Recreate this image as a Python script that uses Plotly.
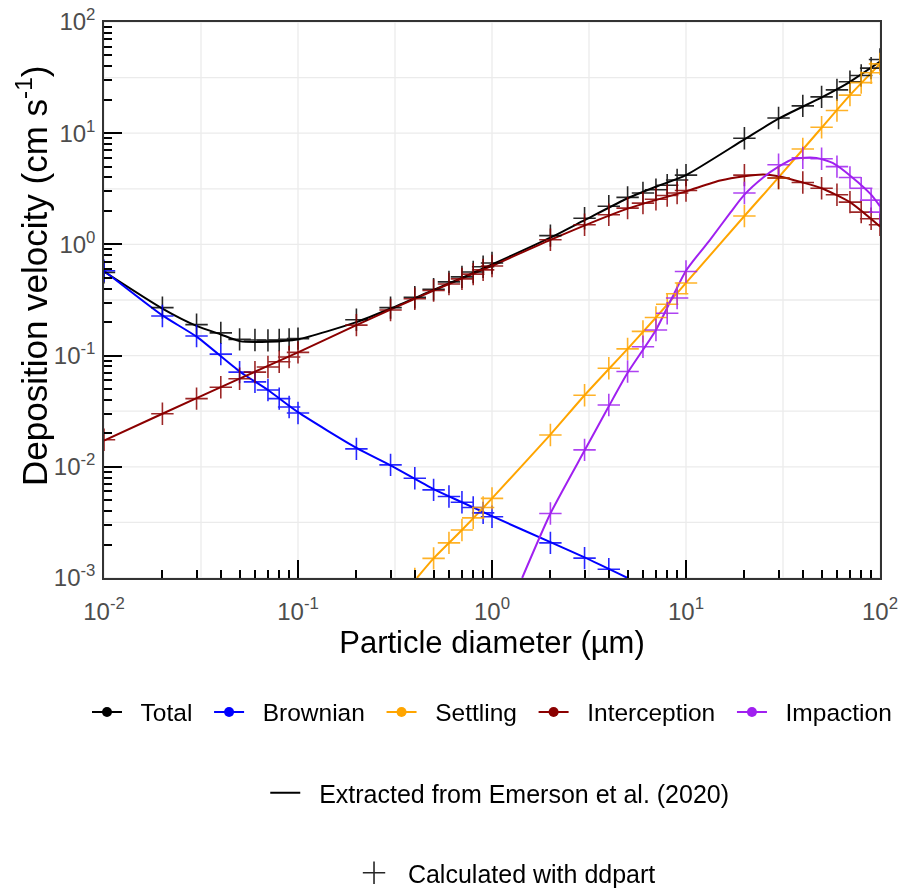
import plotly.graph_objects as go

# ---------------- data ----------------
# ddpart calculation grid (particle diameter, µm)
calc_d = [0.01, 0.02, 0.03, 0.04, 0.05, 0.06, 0.07, 0.08, 0.09,
          0.1, 0.2, 0.3, 0.4, 0.5, 0.6, 0.7, 0.8, 0.9,
          1, 2, 3, 4, 5, 6, 7, 8, 9,
          10, 20, 30, 40, 50, 60, 70, 80, 90, 100]

calc_total = [0.56, 0.27, 0.19, 0.16, 0.14, 0.138, 0.137, 0.138, 0.14,
              0.142, 0.21, 0.27, 0.335, 0.395, 0.46, 0.51, 0.565, 0.63,
              0.68, 1.2, 1.72, 2.2, 2.65, 2.9, 3.1, 3.4, 3.8,
              4.2, 9.0, 13.7, 17.6, 21.2, 24.5, 29.0, 33.0, 38.5, 46.0]
calc_brownian = [0.58, 0.227, 0.15, 0.103, 0.071, 0.058, 0.049, 0.041, 0.0345,
                 0.0305, 0.0145, 0.0104, 0.0079, 0.0062, 0.0054, 0.0048, 0.0043, 0.00385,
                 0.00355, 0.00207, 0.00151, 0.0012, None, None, None, None, None,
                 None, None, None, None, None, None, None, None, None, None]
calc_settling = [None, None, None, None, None, None, None, None, None,
                 None, None, None, 0.00098, 0.0015, 0.00207, 0.0027, 0.00347, 0.0043,
                 0.0052, 0.0193, 0.044, 0.077, 0.115, 0.165, 0.22, 0.29, 0.36,
                 0.45, 1.8, 3.95, 7.2, 11.3, 16.0, 22.0, 28.5, 35.0, 42.0]
calc_interception = [0.0175, 0.03, 0.041, 0.052, 0.062, 0.071, 0.079, 0.088, 0.097,
                     0.107, 0.188, 0.257, 0.325, 0.385, 0.44, 0.49, 0.54, 0.59,
                     0.64, 1.1, 1.5, 1.85, 2.12, 2.35, 2.55, 2.75, 2.9,
                     3.05, 4.2, 3.95, 3.6, 3.2, 2.8, 2.4, 1.95, 1.7, 1.5]
calc_impaction = [None, None, None, None, None, None, None, None, None,
                  None, None, None, None, None, None, None, None, None,
                  None, 0.0038, 0.0142, 0.036, 0.072, 0.12, 0.17, 0.24, 0.33,
                  0.57, 2.9, 5.2, 6.0, 5.9, 5.0, 4.0, 3.2, 2.5, 1.95]

# curves extracted from Emerson et al. (2020)
ext_total_d = [0.01, 0.02, 0.03, 0.04, 0.05, 0.07, 0.1, 0.2, 0.3, 0.5, 0.7, 1,
               2, 3, 5, 7, 10, 20, 30, 50, 70, 100]
ext_total_v = [0.57, 0.265, 0.185, 0.155, 0.135, 0.133, 0.14, 0.2, 0.265, 0.39, 0.5, 0.66,
               1.15, 1.65, 2.6, 3.3, 4.2, 8.8, 13.5, 21.0, 29.0, 44.0]
ext_brownian_d = [0.01, 0.02, 0.03, 0.05, 0.07, 0.1, 0.2, 0.3, 0.5, 0.7, 1, 2, 3, 5]
ext_brownian_v = [0.58, 0.23, 0.148, 0.072, 0.049, 0.031, 0.0148, 0.0103, 0.0063, 0.0048,
                  0.0036, 0.0021, 0.00153, 0.001]
ext_settling_d = [0.41, 0.5, 0.7, 1, 2, 3, 5, 7, 10, 20, 30, 50, 70, 100]
ext_settling_v = [0.001, 0.0015, 0.0027, 0.0052, 0.0195, 0.044, 0.115, 0.22, 0.45,
                  1.8, 4.0, 11.2, 22.0, 42.0]
ext_interception_d = [0.01, 0.02, 0.05, 0.1, 0.2, 0.5, 1, 2, 5, 10, 15, 20, 25, 30,
                      40, 50, 70, 100]
ext_interception_v = [0.0172, 0.03, 0.062, 0.107, 0.188, 0.385, 0.64, 1.1, 2.1, 3.0,
                      3.75, 4.1, 4.25, 4.1, 3.6, 3.2, 2.4, 1.45]
ext_impaction_d = [1.43, 2, 3, 4, 5, 7, 10, 13.3, 17, 20, 25, 30, 36, 47, 57, 72, 90, 100]
ext_impaction_v = [0.001, 0.0038, 0.014, 0.035, 0.07, 0.17, 0.58, 1.1, 1.95, 2.8,
                   4.0, 5.0, 5.9, 6.0, 5.4, 4.0, 2.8, 2.2]

series_names = ["Total", "Brownian", "Settling", "Interception", "Impaction"]
series_colors = ["#000000", "#0000FF", "#FFA500", "#8B0000", "#A020F0"]

x_tick_vals = [0.01, 0.1, 1, 10, 100]
x_tick_text = ["10<sup>-2</sup>", "10<sup>-1</sup>", "10<sup>0</sup>", "10<sup>1</sup>", "10<sup>2</sup>"]
y_tick_vals = [0.001, 0.01, 0.1, 1, 10, 100]
y_tick_text = ["10<sup>-3</sup>", "10<sup>-2</sup>", "10<sup>-1</sup>", "10<sup>0</sup>",
               "10<sup>1</sup>", "10<sup>2</sup>"]

# ---------------- figure ----------------
ext_data = [(ext_total_d, ext_total_v), (ext_brownian_d, ext_brownian_v),
            (ext_settling_d, ext_settling_v), (ext_interception_d, ext_interception_v),
            (ext_impaction_d, ext_impaction_v)]
calc_data = [calc_total, calc_brownian, calc_settling, calc_interception, calc_impaction]

fig = go.Figure()
NB = "\u00a0\u00a0"

for i, (name, col) in enumerate(zip(series_names, series_colors)):
    xd, yd = ext_data[i]
    fig.add_trace(go.Scatter(
        x=xd, y=yd, mode="lines", line=dict(color=col, width=2, shape="spline", smoothing=0.6),
        name=NB + "Extracted from Emerson et al. (2020)",
        showlegend=(i == 0), legend="legend2", hoverinfo="skip"))

for i, (name, col) in enumerate(zip(series_names, series_colors)):
    fig.add_trace(go.Scatter(
        x=calc_d, y=calc_data[i], mode="markers",
        marker=dict(symbol="cross-thin", size=16, color=col,
                    line=dict(color=col, width=1.6)),
        opacity=0.85,
        name=NB + "Calculated with ddpart",
        showlegend=(i == 0), legend="legend3", hoverinfo="skip"))

# colour legend entries
for name, col in zip(series_names, series_colors):
    fig.add_trace(go.Scatter(
        x=[None], y=[None], mode="lines+markers",
        line=dict(color=col, width=2), marker=dict(color=col, size=10),
        name=NB + name + "\u00a0\u2009", legend="legend"))

# faint grid at decades and half-decades
shapes = []
for k in range(-4, 5):
    v = 10 ** (k / 2)
    shapes.append(dict(type="line", xref="x", yref="paper", x0=v, x1=v, y0=0, y1=1,
                       line=dict(color="#ebebeb", width=1.3), layer="below"))
for k in range(-6, 5):
    v = 10 ** (k / 2)
    shapes.append(dict(type="line", xref="paper", yref="y", x0=0, x1=1, y0=v, y1=v,
                       line=dict(color="#ebebeb", width=1.3), layer="below"))

minor_x = [m * 10 ** e for e in range(-2, 2) for m in range(2, 10)]
minor_y = [m * 10 ** e for e in range(-3, 2) for m in range(2, 10)]

font_family = "Liberation Sans, Arial, sans-serif"

fig.update_layout(
    width=909, height=888,
    margin=dict(l=104, r=29, t=22, b=310),
    paper_bgcolor="white", plot_bgcolor="white",
    font=dict(family=font_family, color="black"),
    shapes=shapes,
    xaxis=dict(type="log", range=[-2, 2], tickmode="array", tickvals=x_tick_vals,
               ticktext=x_tick_text, ticks="inside", ticklen=18, tickwidth=1.5,
               tickcolor="black", showgrid=False, zeroline=False, automargin=False,
               showline=True, linecolor="#333333", linewidth=1.5, mirror=True,
               tickfont=dict(size=24, color="#4d4d4d"), ticklabelstandoff=11,
               minor=dict(tickmode="array", tickvals=minor_x, ticks="inside",
                          ticklen=8, tickwidth=1.5, tickcolor="black", showgrid=False),
               title=dict(text="Particle diameter (µm)", font=dict(size=31, color="black"),
                          standoff=2)),
    yaxis=dict(type="log", range=[-3, 2], tickmode="array", tickvals=y_tick_vals,
               ticktext=y_tick_text, ticks="inside", ticklen=18, tickwidth=1.5,
               tickcolor="black", showgrid=False, zeroline=False, automargin=False,
               showline=True, linecolor="#333333", linewidth=1.5, mirror=True,
               tickfont=dict(size=24, color="#4d4d4d"), ticklabelstandoff=2,
               minor=dict(tickmode="array", tickvals=minor_y, ticks="inside",
                          ticklen=8, tickwidth=1.5, tickcolor="black", showgrid=False)),
    annotations=[dict(text="Deposition velocity (cm s<sup>-1</sup>)", textangle=-90,
                      xref="paper", yref="paper", x=(32 - 104) / 776, y=(578 - 276) / 556,
                      xanchor="center", yanchor="middle", showarrow=False,
                      font=dict(size=35, color="black"))],
    legend=dict(orientation="h", x=(102 - 104) / 776, xanchor="left", yref="paper",
                y=(578 - 712) / 556, yanchor="middle",
                font=dict(size=24.5, color="black"), bgcolor="rgba(0,0,0,0)"),
    legend2=dict(orientation="h", x=0.51, xanchor="center", yref="paper",
                 y=(578 - 793) / 556, yanchor="middle",
                 font=dict(size=25, color="black"), bgcolor="rgba(0,0,0,0)"),
    legend3=dict(orientation="h", x=0.52, xanchor="center", yref="container",
                 y=1 - 873 / 888, yanchor="middle",
                 font=dict(size=25, color="black"), bgcolor="rgba(0,0,0,0)"),
)

fig.write_html("out.html")
